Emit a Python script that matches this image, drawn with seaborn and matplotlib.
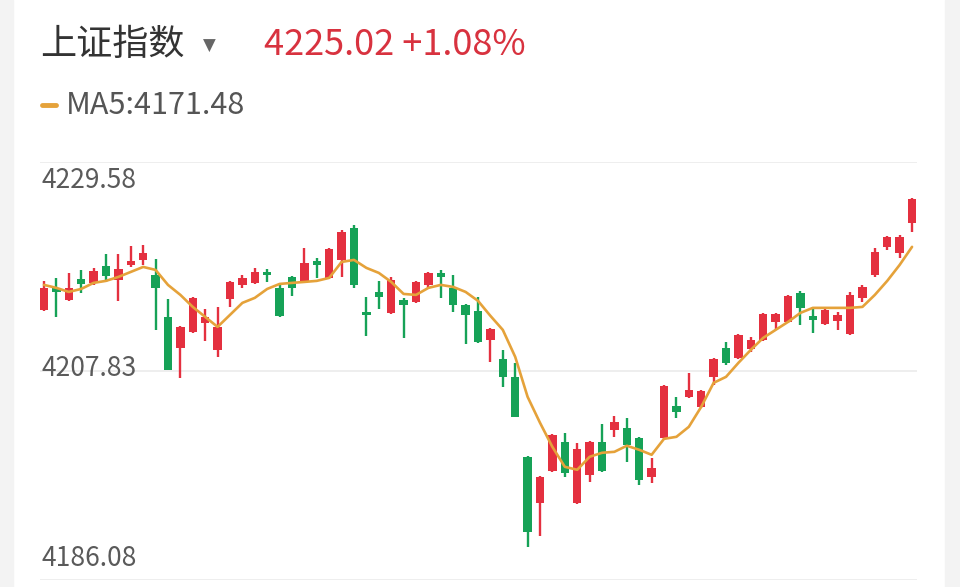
import numpy as np
import pandas as pd
import seaborn as sns
import matplotlib.pyplot as plt
from matplotlib.patches import Rectangle

# daily candles (red = up, green = down)
opens = [4214.19, 4216.48, 4215.23, 4217.41, 4217.00, 4218.77, 4217.31, 4218.87, 4219.39, 4217.83,
         4213.46, 4210.24, 4211.90, 4212.84, 4210.03, 4215.33, 4216.79, 4217.00, 4218.14, 4216.48,
         4217.62, 4217.10, 4219.29, 4217.52, 4219.39, 4222.72, 4213.98, 4216.06, 4213.88, 4215.23,
         4215.02, 4216.79, 4218.04, 4216.48, 4214.71, 4214.09, 4211.07, 4209.09, 4207.22, 4198.90,
         4194.12, 4197.45, 4200.46, 4194.12, 4197.03, 4200.46, 4201.71, 4201.92, 4200.88, 4196.82,
         4200.88, 4204.21, 4205.14, 4204.10, 4207.22, 4210.24, 4209.20, 4210.13, 4211.07, 4212.94,
         4212.94, 4215.96, 4213.57, 4212.73, 4213.05, 4211.69, 4215.44, 4217.83, 4220.74, 4220.12,
         4223.24]
highs = [4217.21, 4217.52, 4218.04, 4218.35, 4218.56, 4220.01, 4220.01, 4220.85, 4220.95, 4219.49,
         4215.33, 4212.53, 4215.50, 4214.29, 4214.50, 4217.20, 4217.83, 4218.56, 4218.45, 4217.00,
         4217.73, 4220.64, 4219.60, 4220.64, 4222.51, 4223.03, 4215.54, 4217.21, 4217.62, 4215.44,
         4217.20, 4218.14, 4218.35, 4217.83, 4214.80, 4215.54, 4212.32, 4210.03, 4208.68, 4199.00,
         4196.90, 4201.30, 4201.40, 4200.36, 4200.50, 4202.33, 4203.17, 4202.96, 4200.98, 4198.80,
         4206.39, 4205.14, 4207.64, 4205.87, 4209.20, 4210.86, 4211.70, 4211.38, 4213.90, 4213.88,
         4215.75, 4216.17, 4214.50, 4214.50, 4213.98, 4216.06, 4216.79, 4220.64, 4221.90, 4221.99,
         4225.84]
lows = [4214.10, 4213.46, 4215.10, 4215.96, 4216.79, 4217.10, 4215.13, 4218.66, 4218.87, 4212.11,
        4207.90, 4207.12, 4211.80, 4210.97, 4209.30, 4214.50, 4216.48, 4216.90, 4217.10, 4213.46,
        4215.65, 4217.00, 4217.52, 4217.40, 4217.62, 4216.48, 4211.49, 4214.29, 4213.80, 4211.28,
        4214.90, 4216.37, 4215.44, 4213.98, 4210.65, 4210.76, 4208.78, 4206.18, 4203.00, 4189.55,
        4190.69, 4197.35, 4196.82, 4194.00, 4196.30, 4197.35, 4200.98, 4198.38, 4195.99, 4196.20,
        4200.80, 4202.96, 4205.00, 4204.00, 4206.39, 4208.47, 4209.10, 4209.82, 4211.00, 4212.11,
        4212.84, 4212.63, 4211.80, 4212.60, 4212.11, 4211.60, 4215.02, 4217.62, 4220.43, 4219.60,
        4222.30]
closes = [4216.48, 4216.06, 4216.48, 4216.89, 4218.25, 4217.73, 4218.45, 4219.29, 4220.12, 4216.48,
          4207.95, 4212.42, 4215.44, 4213.46, 4212.42, 4217.10, 4217.52, 4218.14, 4217.83, 4213.57,
          4216.48, 4219.08, 4218.87, 4220.53, 4222.30, 4216.79, 4213.67, 4215.54, 4217.31, 4214.71,
          4217.10, 4218.04, 4217.62, 4214.71, 4213.67, 4210.86, 4212.21, 4207.22, 4203.06, 4191.10,
          4196.82, 4201.19, 4197.24, 4199.73, 4200.46, 4197.45, 4202.54, 4200.15, 4196.51, 4197.76,
          4206.29, 4203.58, 4205.87, 4205.77, 4209.09, 4208.68, 4211.59, 4211.07, 4213.77, 4213.77,
          4215.65, 4214.40, 4213.15, 4214.19, 4213.67, 4215.75, 4216.58, 4220.22, 4221.78, 4221.78,
          4225.73]
ma5 = [4216.79, 4216.48, 4216.06, 4216.37, 4217.00, 4217.21, 4217.62, 4218.14, 4218.66, 4218.35,
       4216.79, 4215.75, 4214.50, 4213.46, 4212.42, 4213.67, 4214.92, 4215.44, 4216.37, 4216.89,
       4217.00, 4217.10, 4217.21, 4217.52, 4219.18, 4219.39, 4218.56, 4218.04, 4217.10, 4215.85,
       4215.75, 4216.48, 4216.79, 4216.58, 4216.06, 4215.13, 4213.57, 4212.11, 4209.30, 4205.14,
       4202.44, 4199.93, 4197.86, 4197.55, 4198.90, 4199.32, 4199.42, 4200.05, 4199.63, 4199.11,
       4200.77, 4200.98, 4202.02, 4204.10, 4206.60, 4207.22, 4208.68, 4210.03, 4211.28, 4212.11,
       4212.94, 4213.88, 4214.40, 4214.40, 4214.40, 4214.40, 4214.50, 4215.75, 4217.21, 4218.87,
       4220.75]
y_ticks = [4186.08, 4207.83, 4229.58]
tick_labels = ['4186.08', '4207.83', '4229.58']

df = pd.DataFrame({'open': opens, 'high': highs, 'low': lows, 'close': closes, 'ma5': ma5})
df['day'] = np.arange(len(df))

RED = '#E4303F'
GREEN = '#16A257'
GOLD = '#E5A23A'

sns.set_style('white')
plt.rcParams['font.family'] = ['Noto Sans CJK SC', 'DejaVu Sans']

W, H = 960, 587
fig = plt.figure(figsize=(W / 100, H / 100), dpi=100)

def fx(px):
    return px / W

def fy(py):
    return 1 - py / H

# grey side strips of the phone screenshot
fig.patches.append(Rectangle((0, 0), fx(13), 1, transform=fig.transFigure, color='#F3F3F3', zorder=0))
fig.patches.append(Rectangle((fx(945), 0), 1 - fx(945), 1, transform=fig.transFigure, color='#F3F3F3', zorder=0))

ax = fig.add_axes([fx(40), fy(580), fx(917 - 40), (580 - 162) / H])
ax.set_xlim(-0.32, 70.4)
ax.set_ylim(y_ticks[0], y_ticks[-1])
for v in y_ticks:
    ax.axhline(v, color='#EBEBEB', lw=1.2, zorder=0)

up = df['close'] >= df['open']
colors = np.where(up, RED, GREEN)
ax.vlines(df['day'], df['low'], df['high'], colors=colors, lw=1.7, zorder=2)
body_h = (df['close'] - df['open']).abs().clip(lower=0.12)
ax.bar(df['day'], body_h, bottom=df[['open', 'close']].min(axis=1), width=0.68,
       color=colors, linewidth=0, zorder=3)

sns.lineplot(data=df, x='day', y='ma5', color=GOLD, lw=1.9, ax=ax, zorder=4)

ax.set_xticks([])
ax.set_yticks([])
ax.set_xlabel('')
ax.set_ylabel('')
sns.despine(ax=ax, left=True, bottom=True)

# axis labels drawn inside the plot, like the app
tick_kw = dict(fontsize=19, color='#5A5A5A', va='center', ha='left')
fig.text(fx(41), fy(181), tick_labels[2], **tick_kw)
fig.text(fx(41), fy(368), tick_labels[1], **tick_kw)
fig.text(fx(41), fy(558), tick_labels[0], **tick_kw)

# header
fig.text(fx(40), fy(45), '上证指数', fontsize=26, color='#333333', va='center', ha='left')
fig.text(fx(209), fy(46), '▼', fontsize=12, color='#666666', va='center', ha='center',
         family='DejaVu Sans')
fig.text(fx(264), fy(45), '4225.02 +1.08%', fontsize=26, color='#D8323F', va='center', ha='left')

fig.lines.append(plt.Line2D([fx(42), fx(56)], [fy(105), fy(105)], transform=fig.transFigure,
                            color=GOLD, lw=3.5, solid_capstyle='round'))
fig.text(fx(66), fy(105), 'MA5:4171.48', fontsize=22, color='#555555', va='center', ha='left')

fig.savefig('out.png', dpi=100)
